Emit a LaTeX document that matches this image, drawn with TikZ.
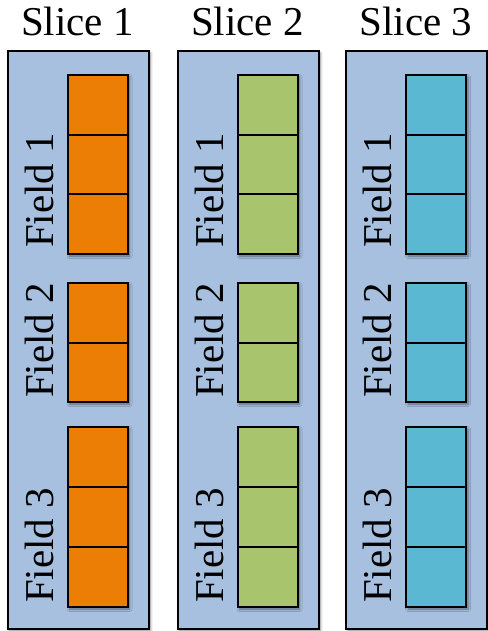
\documentclass[tikz,border=0pt]{standalone}
\usepackage{fontspec}
\setmainfont{Liberation Serif}
\usetikzlibrary{shadows.blur}
\definecolor{panelblue}{HTML}{A7C0DF}
\definecolor{cellorange}{HTML}{EC7E05}
\definecolor{cellgreen}{HTML}{A8C46C}
\definecolor{cellcyan}{HTML}{5BB8D2}
\tikzset{
  softshadow/.style={blur shadow={shadow xshift=2pt, shadow yshift=-2pt,
      shadow blur steps=6, shadow blur radius=2.5pt, shadow opacity=45}},
  panel/.style={draw=black, line width=2pt, fill=panelblue, rectangle,
      inner sep=0, minimum width=141pt, minimum height=578pt,
      anchor=north west, softshadow},
  fieldbox/.style={draw=black, line width=2pt, rectangle, inner sep=0,
      minimum width=60pt, anchor=north west, softshadow},
  cell/.style={draw=black, line width=2pt, rectangle, inner sep=0,
      minimum width=60pt, minimum height=59.7pt, anchor=north west},
  title/.style={font=\fontsize{41}{41}\selectfont, inner sep=0, anchor=base},
  fieldlabel/.style={font=\fontsize{41}{41}\selectfont, inner sep=0,
      rotate=90, anchor=base west},
}
\begin{document}
\begin{tikzpicture}[x=1pt,y=-1pt]
  \useasboundingbox (0,0) rectangle (487,631);
  \foreach \s/\col/\x in {1/cellorange/6.5, 2/cellgreen/176.5, 3/cellcyan/345}{
    % slice panel and its title
    \node[panel] (p\s) at (\x,50) {};
    \node[title] (t\s) at (\x+71,36) {Slice \s};
    % field 1: three cells
    \node[fieldbox, fill=\col, minimum height=179pt] (f\s a) at (\x+60,74) {};
    \node[cell] (c\s a1) at (\x+60,74) {};
    \node[cell] (c\s a2) at (\x+60,133.7) {};
    \node[cell] (c\s a3) at (\x+60,193.3) {};
    \node[fieldlabel] (l\s a) at (\x+46.5,248) {Field 1};
    % field 2: two cells
    \node[fieldbox, fill=\col, minimum height=119pt] (f\s b) at (\x+60,282) {};
    \node[cell, minimum height=59.5pt] (c\s b1) at (\x+60,282) {};
    \node[cell, minimum height=59.5pt] (c\s b2) at (\x+60,341.5) {};
    \node[fieldlabel] (l\s b) at (\x+46.5,398) {Field 2};
    % field 3: three cells
    \node[fieldbox, fill=\col, minimum height=180pt] (f\s c) at (\x+60,426) {};
    \node[cell, minimum height=60pt] (c\s c1) at (\x+60,426) {};
    \node[cell, minimum height=60pt] (c\s c2) at (\x+60,486) {};
    \node[cell, minimum height=60pt] (c\s c3) at (\x+60,546) {};
    \node[fieldlabel] (l\s c) at (\x+46.5,603) {Field 3};
  }
\end{tikzpicture}
\end{document}
